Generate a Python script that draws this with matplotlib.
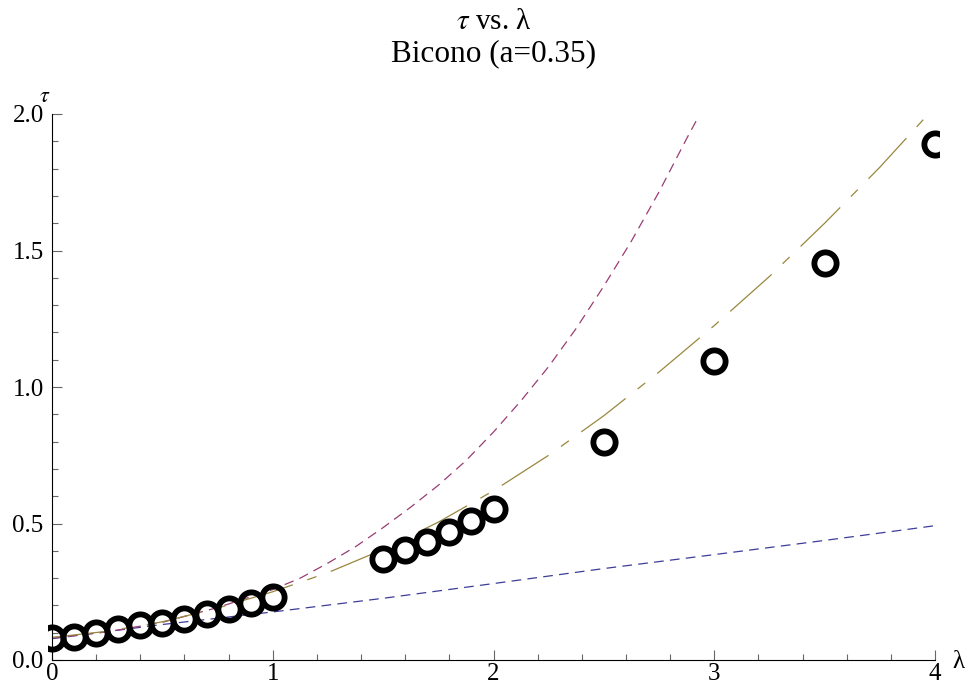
import matplotlib
matplotlib.use("Agg")
import matplotlib.pyplot as plt
from matplotlib.ticker import FixedLocator

plt.rcParams['font.family'] = ['Liberation Serif', 'DejaVu Serif']
plt.rcParams['mathtext.fontset'] = 'stix'
plt.rcParams['lines.scale_dashes'] = False

# measured data points
lam_pts = [0.0, 0.1, 0.2, 0.3, 0.4, 0.5, 0.6, 0.7, 0.8, 0.9, 1.0,
           1.5, 1.6, 1.7, 1.8, 1.9, 2.0, 2.5, 3.0, 3.5, 4.0]
tau_pts = [0.081, 0.084, 0.099, 0.114, 0.128, 0.136, 0.150, 0.169, 0.187, 0.209, 0.231,
           0.370, 0.404, 0.433, 0.470, 0.510, 0.554, 0.800, 1.097, 1.453, 1.890]

# curve readings
lam_blue = [0.0, 0.5, 1.0, 1.5, 2.0, 2.5, 3.0, 3.5, 4.0]
tau_blue = [0.078, 0.130, 0.176, 0.226, 0.280, 0.335, 0.386, 0.438, 0.492]

lam_purple = [0.0, 0.25, 0.5, 0.75, 1.0, 1.125, 1.25, 1.375, 1.5, 1.625, 1.75, 1.875,
              2.0, 2.125, 2.25, 2.375, 2.5, 2.625, 2.75, 2.875, 2.925]
tau_purple = [0.080, 0.103, 0.138, 0.192, 0.258, 0.300, 0.355, 0.415, 0.485, 0.560, 0.640, 0.730,
              0.835, 0.950, 1.075, 1.215, 1.370, 1.535, 1.715, 1.910, 1.985]

lam_gold = [0.0, 0.25, 0.5, 0.75, 1.0, 1.25, 1.5, 1.75, 2.0, 2.25, 2.5, 2.75, 3.0,
            3.25, 3.5, 3.75, 3.97]
tau_gold = [0.083, 0.105, 0.140, 0.190, 0.250, 0.320, 0.405, 0.505, 0.620, 0.750, 0.895,
            1.055, 1.225, 1.405, 1.600, 1.805, 2.000]

x_ticks = [0, 1, 2, 3, 4]
x_labels = ["0", "1", "2", "3", "4"]
y_ticks = [0.0, 0.5, 1.0, 1.5, 2.0]
y_labels = ["0.0", "0.5", "1.0", "1.5", "2.0"]

W, H = 974, 692
fig = plt.figure(figsize=(W / 100, H / 100), dpi=100)
ax = fig.add_axes([48 / W, 32 / H, (939 - 48) / W, (660 - 114) / H])
ax.set_xlim(-0.018, 4.018)
ax.set_ylim(0.0, 2.0)

ax.plot(lam_blue, tau_blue, color='#3d3d99', lw=0.9, dashes=(7, 4.5))
ax.plot(lam_purple, tau_purple, color='#993d74', lw=0.9, dashes=(7, 4.5))
ax.plot(lam_gold, tau_gold, color='#99873d', lw=0.9, dashes=(40, 11, 7, 11))
ax.plot(lam_pts, tau_pts, linestyle='none', marker='o', ms=16, mew=4.2,
        mfc='none', mec='black', zorder=5)

for s in ['top', 'right']:
    ax.spines[s].set_visible(False)
ax.spines['left'].set_position(('data', 0))
ax.spines['bottom'].set_position(('data', 0))
ax.spines['left'].set_bounds(0, 2.0)
ax.spines['bottom'].set_bounds(0, 4)
for s in ['left', 'bottom']:
    ax.spines[s].set_linewidth(0.8)
    ax.spines[s].set_color('black')

ax.xaxis.set_major_locator(FixedLocator(x_ticks))
ax.set_xticklabels(x_labels)
ax.xaxis.set_minor_locator(FixedLocator([i * 0.2 for i in range(21) if i % 5 != 0]))
ax.yaxis.set_major_locator(FixedLocator(y_ticks))
ax.set_yticklabels(y_labels)
ax.yaxis.set_minor_locator(FixedLocator([i * 0.1 for i in range(21) if i % 5 != 0]))

ax.tick_params(which='major', direction='in', length=7, width=0.8, color='#666666',
               labelsize=18)
ax.tick_params(which='minor', direction='in', length=4.5, width=0.8, color='#666666')
ax.tick_params(axis='x', which='major', pad=2)
ax.tick_params(axis='y', which='major', pad=6)

fig.text(494 / W, 1 - 22 / H, r"$\tau$ vs. λ", ha='center', va='center', fontsize=21)
fig.text(494 / W, 1 - 54 / H, "Bicono (a=0.35)", ha='center', va='center', fontsize=22.5)
fig.text(45 / W, 1 - 97 / H, r"$\tau$", ha='center', va='center', fontsize=16)
fig.text(958 / W, 1 - 662 / H, "λ", ha='center', va='center', fontsize=18)

fig.savefig("out.png", dpi=100)
